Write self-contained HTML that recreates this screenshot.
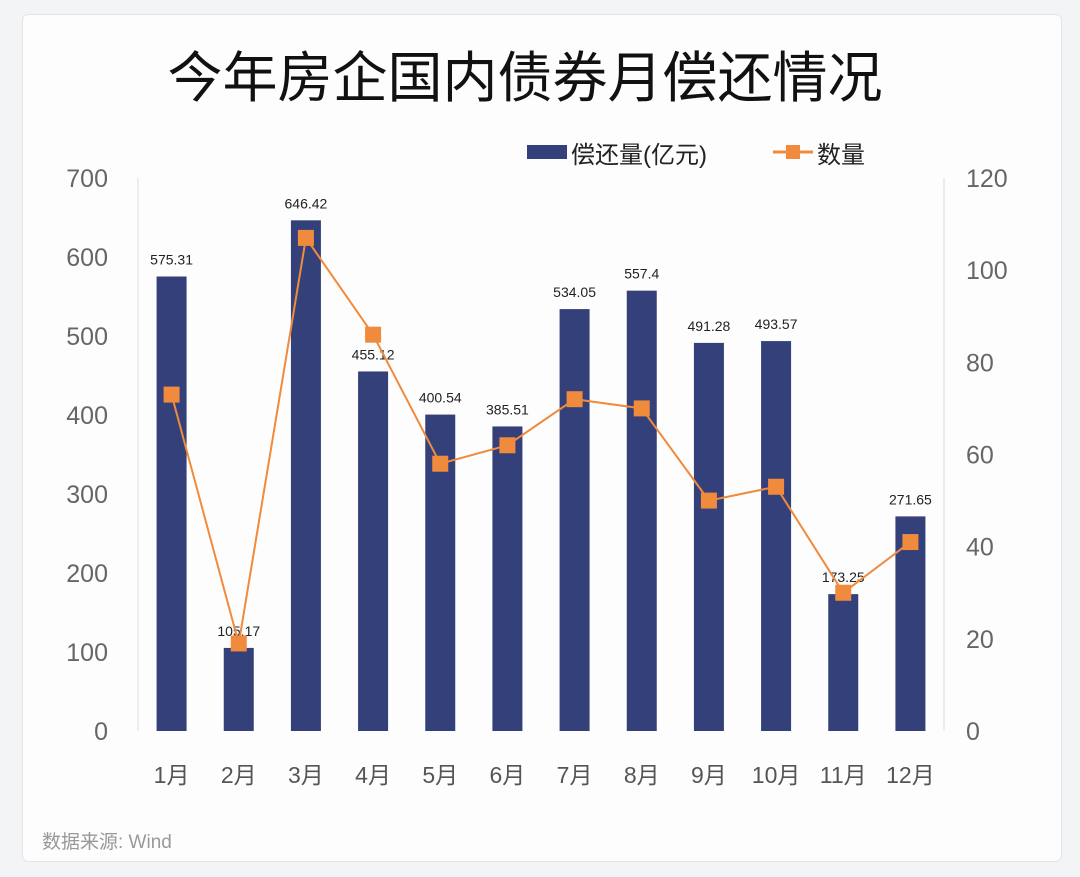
<!DOCTYPE html>
<html><head><meta charset="utf-8"><style>
body{margin:0;background:#f3f4f6;width:1080px;height:877px;overflow:hidden;font-family:"Liberation Sans","Noto Sans CJK SC",sans-serif;}
#card{position:absolute;left:22px;top:14px;width:1038px;height:846px;background:#fdfdfe;border:1px solid #e2e4e8;border-radius:6px;}
svg{position:absolute;left:0;top:0;}
</style></head><body>
<div id="card"></div>
<svg id="c" width="1080" height="877">
<text x="525" y="97" text-anchor="middle" font-size="55" fill="#111" font-family="Liberation Sans,Noto Sans CJK SC,sans-serif">今年房企国内债券月偿还情况</text>
<g>
<rect x="527" y="145" width="40" height="14" fill="#34407a"/>
<text x="571" y="163" font-size="24" fill="#222">偿还量(亿元)</text>
<line x1="773" y1="152" x2="813" y2="152" stroke="#f08a3c" stroke-width="3"/>
<rect x="786" y="145" width="14" height="14" fill="#f08a3c"/>
<text x="817" y="163" font-size="24" fill="#222">数量</text>
</g>
<text x="42" y="848" font-size="19" fill="#999">数据来源:  Wind</text>
</svg>
<script>
const months=["1月","2月","3月","4月","5月","6月","7月","8月","9月","10月","11月","12月"];
const amounts=[575.31,105.17,646.42,455.12,400.54,385.51,534.05,557.4,491.28,493.57,173.25,271.65];
const counts=[73,19,107,86,58,62,72,70,50,53,30,41];
const leftTicks=[0,100,200,300,400,500,600,700];
const rightTicks=[0,20,40,60,80,100,120];
const NS="http://www.w3.org/2000/svg";
const svg=document.getElementById('c');
const x0=138,x1=944,yB=731,yT=178;
const step=(x1-x0)/months.length;
const xc=i=>x0+step*(i+0.5);
const yL=v=>yB-(v/700)*(yB-yT);
const yR=v=>yB-(v/120)*(yB-yT);
function mk(t,a){const e=document.createElementNS(NS,t);for(const k in a)e.setAttribute(k,a[k]);svg.appendChild(e);return e;}
let ax=mk('line',{x1:x0,y1:yT,x2:x0,y2:yB,stroke:'#ddd'});


let ax2=mk('line',{x1:x1,y1:yT,x2:x1,y2:yB,stroke:'#ddd'});


leftTicks.forEach(v=>{let t=mk('text',{x:108,y:yL(v)+9,'text-anchor':'end','font-size':25,fill:'#666'});t.textContent=v;

});
rightTicks.forEach(v=>{let t=mk('text',{x:966,y:yR(v)+9,'font-size':25,fill:'#666'});t.textContent=v;

});
amounts.forEach((v,i)=>{let r=mk('rect',{x:xc(i)-15,y:yL(v),width:30,height:yB-yL(v),fill:'#34407a'});


let l=mk('text',{x:xc(i),y:yL(v)-12,'text-anchor':'middle','font-size':14,fill:'#222'});l.textContent=v;


let m=mk('text',{x:xc(i),y:783,'text-anchor':'middle','font-size':23,fill:'#555'});m.textContent=months[i];

});
let pl=mk('polyline',{points:counts.map((v,i)=>xc(i)+','+yR(v)).join(' '),fill:'none',stroke:'#f08a3c','stroke-width':2});


counts.forEach((v,i)=>{let r=mk('rect',{x:xc(i)-8,y:yR(v)-8,width:16,height:16,fill:'#f08a3c'});

});
</script>
</body></html>
